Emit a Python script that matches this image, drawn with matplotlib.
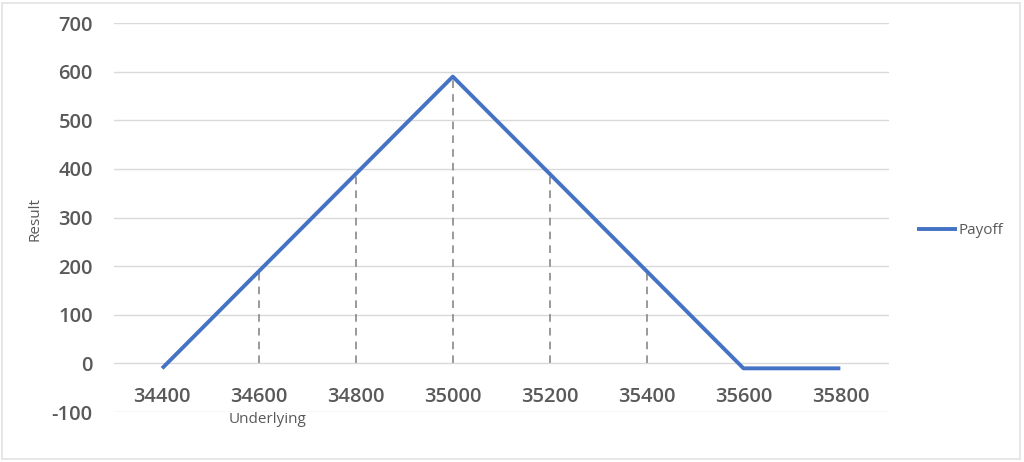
import numpy as np
import matplotlib.pyplot as plt
from matplotlib.patches import Rectangle

# payoff data
underlying = [34400, 34600, 34800, 35000, 35200, 35400, 35600, 35800]
payoff = [-10, 190, 390, 590, 390, 190, -10, -10]

# dashed drop lines
drop_x = [34600, 34800, 35000, 35200, 35400]
drop_y = [190, 390, 590, 390, 190]

y_ticks = [-100, 0, 100, 200, 300, 400, 500, 600, 700]

plt.rcParams['font.family'] = ['Open Sans', 'DejaVu Sans']
plt.rcParams['axes.unicode_minus'] = False

fig = plt.figure(figsize=(10.24, 4.62), dpi=100)
ax = fig.add_axes([0.111, 0.108, 0.757, 0.842])

ax.plot(underlying, payoff, color='#4472C4', linewidth=2.8, label='Payoff',
        solid_joinstyle='round', solid_capstyle='butt', zorder=3)
ax.vlines(drop_x, 0, drop_y, colors='#7f7f7f', linestyles=(0, (5, 4)),
          linewidth=1.1, zorder=2)

ax.set_xlim(34300, 35900)
ax.set_ylim(-100, 700)
ax.set_yticks(y_ticks)
ax.set_xticks(underlying)
ax.set_xticklabels([str(v) for v in underlying])
ax.grid(axis='y', color='#d9d9d9', linewidth=1.0)
ax.set_axisbelow(True)

for s in ['top', 'right', 'left']:
    ax.spines[s].set_visible(False)
ax.spines['bottom'].set_position(('data', 0))
ax.spines['bottom'].set_visible(False)

ax.tick_params(axis='both', length=0, labelsize=14.5, labelcolor='#595959')
ax.tick_params(axis='y', pad=15)
ax.tick_params(axis='x', pad=17)
for lab in ax.get_xticklabels() + ax.get_yticklabels():
    lab.set_fontweight('semibold')

fig.text(0.034, 0.527, 'Result', rotation=90, ha='center', va='center',
         fontsize=11, color='#595959')
fig.text(0.261, 0.091, 'Underlying', ha='center', va='center',
         fontsize=11, color='#595959')

leg = ax.legend(loc='center left', bbox_to_anchor=(0.888, 0.5),
                bbox_transform=fig.transFigure, frameon=False, fontsize=11,
                handlelength=2.6, handletextpad=0.1, borderpad=0)
for t in leg.get_texts():
    t.set_color('#595959')

fig.patches.append(Rectangle((0.002, 0.006), 0.994, 0.988, transform=fig.transFigure,
                             fill=False, edgecolor='#e3e3e3', linewidth=1.2))

fig.savefig('out.png', dpi=100, facecolor='white')
